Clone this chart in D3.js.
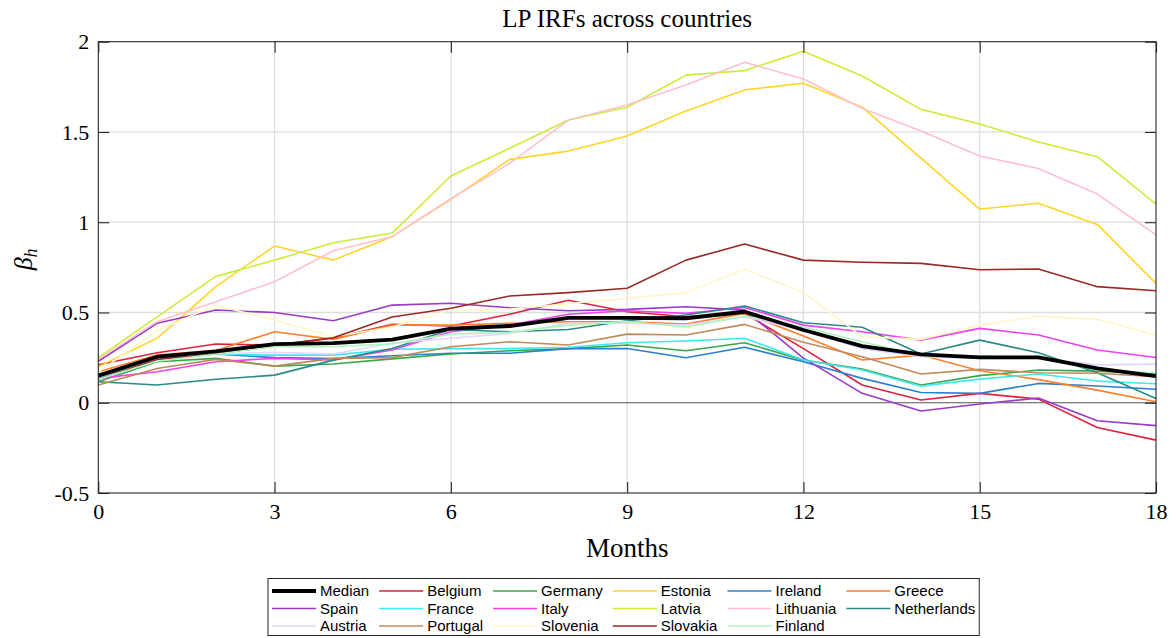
<!DOCTYPE html>
<html>
<head>
<meta charset="utf-8">
<script src="https://cdn.jsdelivr.net/npm/d3@7"></script>
<style>
  html, body { margin: 0; padding: 0; background: #fff; }
  svg { display: block; }
</style>
</head>
<body>
<svg id="chart" width="1176" height="638"></svg>
<script>
// Horizon (months after the shock)
const months = [0,1,2,3,4,5,6,7,8,9,10,11,12,13,14,15,16,17,18];

// Local-projection coefficients beta_h by country
const median      = [0.15,0.255,0.285,0.325,0.33,0.35,0.41,0.425,0.47,0.47,0.468,0.504,0.403,0.314,0.268,0.251,0.251,0.19,0.148];
const belgium     = [0.21,0.277,0.325,0.32,0.357,0.434,0.425,0.49,0.568,0.504,0.476,0.495,0.30,0.098,0.015,0.052,0.02,-0.137,-0.207];
const germany     = [0.116,0.227,0.246,0.203,0.215,0.243,0.27,0.288,0.30,0.32,0.288,0.332,0.236,0.187,0.098,0.15,0.181,0.175,0.159];
const estonia     = [0.2,0.357,0.643,0.868,0.79,0.92,1.127,1.348,1.394,1.478,1.616,1.733,1.77,1.637,1.355,1.073,1.105,0.988,0.661];
const ireland     = [0.14,0.25,0.27,0.25,0.245,0.26,0.274,0.274,0.30,0.30,0.249,0.307,0.227,0.135,0.057,0.052,0.107,0.093,0.075];
const greece      = [0.172,0.264,0.29,0.393,0.351,0.43,0.43,0.44,0.449,0.449,0.436,0.495,0.37,0.237,0.264,0.177,0.128,0.07,0.005];
const spain       = [0.23,0.44,0.514,0.50,0.454,0.541,0.551,0.526,0.51,0.517,0.532,0.513,0.247,0.052,-0.046,-0.007,0.026,-0.10,-0.127];
const france      = [0.14,0.255,0.27,0.264,0.264,0.296,0.30,0.30,0.307,0.332,0.342,0.357,0.237,0.181,0.092,0.131,0.159,0.12,0.105];
const italy       = [0.135,0.172,0.227,0.246,0.237,0.292,0.393,0.43,0.49,0.51,0.495,0.528,0.43,0.393,0.347,0.412,0.375,0.292,0.251];
const latvia      = [0.25,0.476,0.70,0.79,0.886,0.94,1.256,1.41,1.566,1.637,1.815,1.84,1.947,1.81,1.625,1.544,1.444,1.363,1.10];
const lithuania   = [0.24,0.449,0.56,0.67,0.842,0.92,1.13,1.326,1.566,1.649,1.76,1.886,1.793,1.631,1.505,1.367,1.298,1.156,0.93];
const netherlands = [0.116,0.098,0.13,0.153,0.236,0.30,0.406,0.393,0.406,0.454,0.486,0.536,0.443,0.418,0.27,0.347,0.277,0.166,0.024];
const austria     = [0.13,0.235,0.27,0.28,0.27,0.33,0.357,0.384,0.44,0.44,0.43,0.476,0.40,0.30,0.255,0.246,0.246,0.21,0.214];
const portugal    = [0.098,0.19,0.24,0.203,0.246,0.25,0.31,0.338,0.32,0.38,0.375,0.434,0.335,0.255,0.159,0.185,0.166,0.163,0.144];
const slovenia    = [0.17,0.40,0.54,0.458,0.366,0.42,0.514,0.517,0.55,0.578,0.61,0.739,0.61,0.366,0.351,0.43,0.48,0.462,0.375];
const slovakia    = [0.13,0.24,0.27,0.32,0.36,0.475,0.523,0.591,0.61,0.634,0.79,0.879,0.79,0.778,0.772,0.737,0.741,0.643,0.62];
const finland     = [0.13,0.23,0.27,0.31,0.31,0.326,0.38,0.39,0.43,0.45,0.42,0.48,0.42,0.338,0.26,0.26,0.251,0.181,0.166];

// Series names, in legend order, and their colours
const seriesNames = ["Median","Belgium","Germany","Estonia","Ireland","Greece",
                     "Spain","France","Italy","Latvia","Lithuania","Netherlands",
                     "Austria","Portugal","Slovenia","Slovakia","Finland"];
const seriesValues = [median, belgium, germany, estonia, ireland, greece,
                      spain, france, italy, latvia, lithuania, netherlands,
                      austria, portugal, slovenia, slovakia, finland];
const seriesColors = ["#000000","#e0203c","#3aa64a","#ffd52a","#2a7fd0","#ff7f2a",
                      "#9a3ac8","#40e8f0","#f040f0","#c8ee3a","#ffc0cc","#2a8a8a",
                      "#e4d4ff","#c08a58","#fff6c8","#9b2828","#b0f4c0"];

// Axis ticks
const xTicks = [0,3,6,9,12,15,18];
const yTicks = [-0.5,0,0.5,1,1.5,2];
const yTickLabels = ["-0.5","0","0.5","1","1.5","2"];

const svg = d3.select("#chart");
const W = 1176, H = 638;
const plot = { left: 98.3, right: 1156, top: 41.7, bottom: 493 };

const x = d3.scaleLinear().domain([0, 18]).range([plot.left, plot.right]);
const y = d3.scaleLinear().domain([-0.5, 2]).range([plot.bottom, plot.top]);

const serif = "'Liberation Serif', 'Times New Roman', serif";
const sans = "'Liberation Sans', Arial, sans-serif";
const axisColor = "#262626";

svg.append("rect").attr("width", W).attr("height", H).attr("fill", "#fff");

// Grid lines
const grid = svg.append("g");
grid.selectAll("line.gx").data(xTicks.slice(1, -1)).enter().append("line")
  .attr("x1", d => x(d)).attr("x2", d => x(d))
  .attr("y1", plot.top).attr("y2", plot.bottom)
  .attr("stroke", "#dedede").attr("stroke-width", 1.3);
grid.selectAll("line.gy").data(yTicks.filter(d => d > 0 && d < 2)).enter().append("line")
  .attr("x1", plot.left).attr("x2", plot.right)
  .attr("y1", d => y(d)).attr("y2", d => y(d))
  .attr("stroke", "#dedede").attr("stroke-width", 1.3);

// Zero reference line
svg.append("line")
  .attr("x1", plot.left).attr("x2", plot.right)
  .attr("y1", y(0)).attr("y2", y(0))
  .attr("stroke", "#555").attr("stroke-width", 1.1);

// Series lines (countries first, median on top)
const line = d3.line().x((d, i) => x(months[i])).y(d => y(d));
const order = d3.range(1, seriesNames.length).concat([0]);
const linesG = svg.append("g");
order.forEach(k => {
  linesG.append("path")
    .datum(seriesValues[k])
    .attr("d", line)
    .attr("fill", "none")
    .attr("stroke", seriesColors[k])
    .attr("stroke-width", k === 0 ? 3.8 : 1.6)
    .attr("stroke-linejoin", "round");
});

// Axes with inward ticks on all four sides
const tickLen = 11;
const xBottom = d3.axisBottom(x).tickValues(xTicks).tickSize(-tickLen).tickPadding(10).tickFormat(d3.format("d"));
const xTop = d3.axisTop(x).tickValues(xTicks).tickSize(-tickLen).tickFormat("");
const yLeft = d3.axisLeft(y).tickValues(yTicks).tickSize(-tickLen).tickPadding(9).tickFormat((d, i) => yTickLabels[i]);
const yRight = d3.axisRight(y).tickValues(yTicks).tickSize(-tickLen).tickFormat("");

function styleAxis(g) {
  g.select(".domain").remove();
  g.selectAll(".tick line").attr("stroke", axisColor).attr("stroke-width", 1.1);
  g.selectAll(".tick text").attr("fill", "#000").style("font-family", serif).style("font-size", "22px");
}
svg.append("g").attr("transform", `translate(0,${plot.bottom})`).call(xBottom).call(styleAxis);
svg.append("g").attr("transform", `translate(0,${plot.top})`).call(xTop).call(styleAxis);
svg.append("g").attr("transform", `translate(${plot.left},0)`).call(yLeft).call(styleAxis);
svg.append("g").attr("transform", `translate(${plot.right},0)`).call(yRight).call(styleAxis);

// Box outline
svg.append("rect")
  .attr("x", plot.left).attr("y", plot.top)
  .attr("width", plot.right - plot.left).attr("height", plot.bottom - plot.top)
  .attr("fill", "none").attr("stroke", axisColor).attr("stroke-width", 1.1);

// Title and axis labels
const cx = (plot.left + plot.right) / 2;
svg.append("text").attr("x", cx).attr("y", 27)
  .attr("text-anchor", "middle").style("font-family", serif).style("font-size", "25px")
  .text("LP IRFs across countries");
svg.append("text").attr("x", cx).attr("y", 557)
  .attr("text-anchor", "middle").style("font-family", serif).style("font-size", "27px")
  .text("Months");
const yl = svg.append("text")
  .attr("transform", `translate(32,${(plot.top + plot.bottom) / 2 - 8}) rotate(-90)`)
  .attr("text-anchor", "middle").style("font-family", serif).style("font-size", "26px");
yl.append("tspan").style("font-style", "italic").text("β");
yl.append("tspan").style("font-style", "italic").style("font-size", "18px").attr("dy", 5).text("h");

// Legend: 6 columns, filled row by row
const nCols = 6;
const legend = svg.append("g");
const rowY = [591, 608.5, 626];
const lineLen = 44, textGap = 4, colGap = 10;
const legStart = 272;
const fontLeg = "15px";
// measure column widths
const meas = svg.append("text").style("font-family", sans).style("font-size", fontLeg);
const colWidths = d3.range(nCols).map(c => {
  let m = 0;
  seriesNames.forEach((n, i) => { if (i % nCols === c) { meas.text(n); m = Math.max(m, meas.node().getComputedTextLength()); } });
  return m;
});
meas.remove();
const colX = [];
let cur = legStart;
colWidths.forEach(w => { colX.push(cur); cur += lineLen + textGap + w + colGap; });
const legRight = cur - colGap + 4;
legend.append("rect")
  .attr("x", 268).attr("y", 578.5).attr("width", legRight - 268).attr("height", 57)
  .attr("fill", "#fff").attr("stroke", "#262626").attr("stroke-width", 1);
seriesNames.forEach((n, i) => {
  const c = i % nCols, r = Math.floor(i / nCols);
  const lx = colX[c], ly = rowY[r];
  legend.append("line").attr("x1", lx).attr("x2", lx + lineLen).attr("y1", ly).attr("y2", ly)
    .attr("stroke", seriesColors[i]).attr("stroke-width", i === 0 ? 3.8 : 1.6);
  legend.append("text").attr("x", lx + lineLen + textGap).attr("y", ly + 5)
    .style("font-family", sans).style("font-size", fontLeg).attr("fill", "#000").text(n);
});
</script>
</body>
</html>
